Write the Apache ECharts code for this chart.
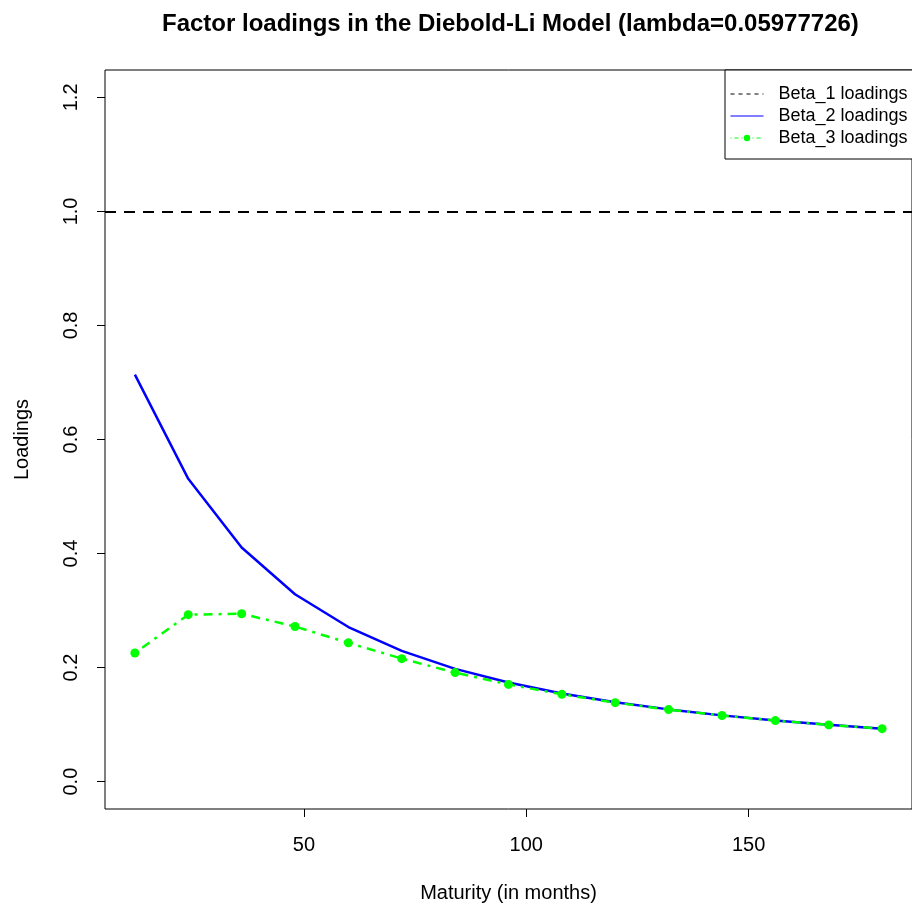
<!DOCTYPE html>
<html>
<head>
<meta charset="utf-8">
<script src="https://cdn.jsdelivr.net/npm/echarts@6/dist/echarts.min.js"></script>
<style>
html,body{margin:0;padding:0;background:#fff;}
#main{width:912px;height:908px;}
</style>
</head>
<body>
<div id="main"></div>
<script>
const maturities = [12, 24, 36, 48, 60, 72, 84, 96, 108, 120, 132, 144, 156, 168, 180];
const beta1Level = 1.0;
const beta2 = [0.7137, 0.5310, 0.4107, 0.3287, 0.2711, 0.2292, 0.1978, 0.1737, 0.1547, 0.1393, 0.1267, 0.1162, 0.1072, 0.0996, 0.0929];
const beta3 = [0.2256, 0.2928, 0.2944, 0.2720, 0.2434, 0.2157, 0.1912, 0.1705, 0.1531, 0.1385, 0.1263, 0.1160, 0.1071, 0.0995, 0.0929];
const xTicks = [50, 100, 150];
const yTicks = [0, 0.2, 0.4, 0.6, 0.8, 1.0, 1.2];
const seriesNames = ['Beta_1 loadings', 'Beta_2 loadings', 'Beta_3 loadings'];

const font = 'Liberation Sans, Arial, sans-serif';
const chart = echarts.init(document.getElementById('main'), null, {renderer: 'canvas'});

const option = {
  animation: false,
  backgroundColor: '#ffffff',
  title: {
    text: 'Factor loadings in the Diebold-Li Model (lambda=0.05977726)',
    left: 157,
    top: 7,
    textStyle: {fontFamily: font, fontSize: 24, fontWeight: 'bold', color: '#000'}
  },
  legend: {
    orient: 'vertical',
    left: 725,
    top: 70,
    padding: [15, 10, 12, 5],
    itemGap: 4,
    itemWidth: 33,
    itemHeight: 8,
    borderColor: '#000',
    borderWidth: 1,
    borderRadius: 0,
    backgroundColor: '#fff',
    lineStyle: {width: 1},
    textStyle: {fontFamily: font, fontSize: 18, color: '#000', padding: [0, 0, 0, 10]},
    data: [
      {name: seriesNames[0], itemStyle: {opacity: 0}, lineStyle: {type: [4, 4]}},
      {name: seriesNames[1], itemStyle: {opacity: 0}},
      {name: seriesNames[2], lineStyle: {type: [1, 3, 4, 3]}}
    ]
  },
  grid: {
    left: 105,
    right: -7,
    top: 70,
    bottom: 98,
    show: true,
    borderColor: '#000',
    borderWidth: 1,
    backgroundColor: 'transparent'
  },
  xAxis: {
    type: 'value',
    min: 5.28,
    max: 186.72,
    name: 'Maturity (in months)',
    nameLocation: 'middle',
    nameGap: 74,
    nameTextStyle: {fontFamily: font, fontSize: 20, color: '#000'},
    axisLine: {show: false, onZero: false},
    splitLine: {show: false},
    axisTick: {show: true, inside: false, length: 8, lineStyle: {color: '#000'}, customValues: xTicks},
    axisLabel: {fontFamily: font, fontSize: 20, color: '#000', margin: 26, customValues: xTicks}
  },
  yAxis: {
    type: 'value',
    min: -0.048,
    max: 1.248,
    name: 'Loadings',
    nameLocation: 'middle',
    nameGap: 73,
    nameRotate: 90,
    nameTextStyle: {fontFamily: font, fontSize: 20, color: '#000'},
    axisLine: {show: false, onZero: false},
    splitLine: {show: false},
    axisTick: {show: true, inside: false, length: 8, lineStyle: {color: '#000'}, customValues: yTicks},
    axisLabel: {fontFamily: font, fontSize: 20, color: '#000', margin: 24, rotate: 90,
      customValues: yTicks, formatter: v => v.toFixed(1)}
  },
  series: [
    {
      name: seriesNames[0],
      type: 'line',
      data: [],
      symbol: 'none',
      itemStyle: {color: '#000'},
      lineStyle: {color: '#000', width: 2, type: [11, 8]},
      markLine: {
        silent: true,
        symbol: 'none',
        label: {show: false},
        lineStyle: {color: '#000', width: 2, type: [11, 8]},
        data: [{yAxis: beta1Level}]
      }
    },
    {
      name: seriesNames[1],
      type: 'line',
      data: maturities.map((m, i) => [m, beta2[i]]),
      symbol: 'none',
      itemStyle: {color: '#0000ff'},
      lineStyle: {color: '#0000ff', width: 2.5}
    },
    {
      name: seriesNames[2],
      type: 'line',
      data: maturities.map((m, i) => [m, beta3[i]]),
      symbol: 'circle',
      symbolSize: 9,
      itemStyle: {color: '#00ff00'},
      lineStyle: {color: '#00ff00', width: 2.5, type: [3, 6, 9, 6]}
    }
  ]
};
chart.setOption(option);
</script>
</body>
</html>
